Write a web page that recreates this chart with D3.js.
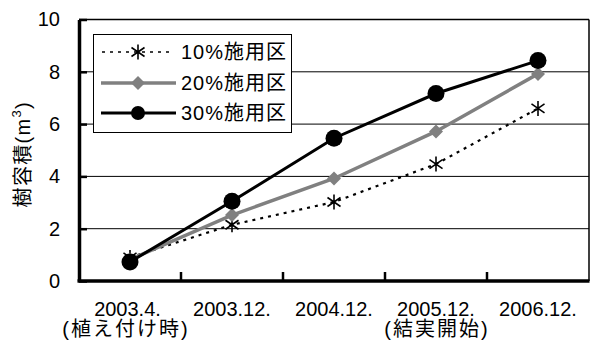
<!DOCTYPE html>
<html>
<head>
<meta charset="utf-8">
<script src="https://cdn.jsdelivr.net/npm/d3@7"></script>
<style>
  html, body { margin: 0; padding: 0; background: #fff; }
  svg { display: block; }
  text { font-family: "Liberation Sans", Arial, "Noto Sans CJK JP", sans-serif; fill: #000; }
</style>
</head>
<body>
<svg id="chart" width="592" height="341"></svg>
<script>
// Sampling dates (x categories) and their sub-captions
const periods = ["2003.4.", "2003.12.", "2004.12.", "2005.12.", "2006.12."];
const notes = ["(植え付け時)", "", "", "(結実開始)", ""];

// Tree volume (m³) for each fertilizer plot
const plot10 = [0.9, 2.15, 3.02, 4.47, 6.6];
const plot20 = [0.82, 2.52, 3.92, 5.72, 7.92];
const plot30 = [0.73, 3.05, 5.46, 7.17, 8.43];

const seriesNames = ["10%施用区", "20%施用区", "30%施用区"];
const yTicks = [0, 2, 4, 6, 8, 10];

const svg = d3.select("#chart");
const mLeft = 79, mRight = 589, mTop = 19.5, mBottom = 281;

const x = d3.scaleBand().domain(periods).range([mLeft, mRight]);
const y = d3.scaleLinear().domain([0, 10]).range([mBottom, mTop]);

// gridlines
svg.append("g").selectAll("line").data(yTicks.filter(d => d > 0 && d < 10)).join("line")
  .attr("x1", mLeft).attr("x2", mRight)
  .attr("y1", d => y(d)).attr("y2", d => y(d))
  .attr("stroke", "#000").attr("stroke-width", 1);

// plot frame: thin top and right
svg.append("line").attr("x1", mLeft).attr("x2", mRight).attr("y1", y(10)).attr("y2", y(10))
  .attr("stroke", "#000").attr("stroke-width", 1.5);
svg.append("line").attr("x1", mRight).attr("x2", mRight).attr("y1", y(10)).attr("y2", mBottom)
  .attr("stroke", "#000").attr("stroke-width", 1.5);

// y axis (ticks point inward)
const yAxis = d3.axisLeft(y).tickValues(yTicks).tickSizeInner(-8).tickSizeOuter(0).tickPadding(19);
const gy = svg.append("g").attr("transform", `translate(${mLeft},0)`).call(yAxis);
gy.select(".domain").attr("stroke", "#000").attr("stroke-width", 3.5);
gy.selectAll(".tick line").attr("stroke", "#000").attr("stroke-width", 2.5);
gy.selectAll(".tick text").attr("font-size", 20).attr("font-family", null);

// x axis (ticks at category boundaries, pointing inward)
const bounds = periods.slice(1).map(p => x(p));
svg.append("line").attr("x1", mLeft - 1.5).attr("x2", mRight + 0.5).attr("y1", mBottom).attr("y2", mBottom)
  .attr("stroke", "#000").attr("stroke-width", 3.5);
svg.append("g").selectAll("line").data(bounds).join("line")
  .attr("x1", d => d).attr("x2", d => d)
  .attr("y1", mBottom).attr("y2", mBottom - 9)
  .attr("stroke", "#000").attr("stroke-width", 2.5);

const cx = p => x(p) + x.bandwidth() / 2;
svg.append("g").selectAll("text").data(periods).join("text")
  .attr("x", (d, i) => cx(d) - (notes[i] && i === 0 ? 2.5 : 0)).attr("y", 316)
  .attr("text-anchor", "middle").attr("font-size", 20)
  .text(d => d);
svg.append("g").selectAll("text").data(periods.map((p, i) => ({p, i, t: notes[i]})).filter(d => d.t)).join("text")
  .attr("x", d => cx(d.p) - (d.i === 0 ? 5 : 0) + 1).attr("y", 336)
  .attr("text-anchor", "middle").attr("font-size", 20).attr("letter-spacing", 2)
  .text(d => d.t);

// y axis title
const yt = svg.append("text")
  .attr("transform", `translate(30,${(mBottom + mTop) / 2 + 4}) rotate(-90)`)
  .attr("text-anchor", "middle").attr("font-size", 20).attr("letter-spacing", 1.3);
yt.append("tspan").text("樹容積(m");
yt.append("tspan").attr("font-size", 13).attr("dy", -9).text("3");
yt.append("tspan").attr("dy", 9).text(")");

// series
const line = d3.line().x((d, i) => cx(periods[i])).y(d => y(d));

function star(g, px, py, s) {
  const r = s;
  g.append("path")
    .attr("d", `M${px},${py - r}L${px},${py + r}M${px - r * 0.87},${py - r * 0.6}L${px + r * 0.87},${py + r * 0.6}M${px - r * 0.87},${py + r * 0.6}L${px + r * 0.87},${py - r * 0.6}`)
    .attr("stroke", "#000").attr("stroke-width", 1.6).attr("fill", "none");
}
function diamond(g, px, py, s) {
  g.append("path").attr("d", `M${px},${py - s}L${px + s},${py}L${px},${py + s}L${px - s},${py}Z`)
    .attr("fill", "#808080");
}
function dot(g, px, py, r) {
  g.append("circle").attr("cx", px).attr("cy", py).attr("r", r).attr("fill", "#000");
}

const g10 = svg.append("g");
g10.append("path").attr("d", line(plot10)).attr("fill", "none")
  .attr("stroke", "#000").attr("stroke-width", 2.2).attr("stroke-dasharray", "3,5");
plot10.forEach((v, i) => star(g10, cx(periods[i]), y(v), 7.5));

const g20 = svg.append("g");
g20.append("path").attr("d", line(plot20)).attr("fill", "none")
  .attr("stroke", "#808080").attr("stroke-width", 3.5);
plot20.forEach((v, i) => diamond(g20, cx(periods[i]), y(v), 7));

const g30 = svg.append("g");
g30.append("path").attr("d", line(plot30)).attr("fill", "none")
  .attr("stroke", "#000").attr("stroke-width", 3);
plot30.forEach((v, i) => dot(g30, cx(periods[i]), y(v), 8.5));

// legend
const lg = svg.append("g");
lg.append("rect").attr("x", 93.5).attr("y", 34.5).attr("width", 198).attr("height", 98)
  .attr("fill", "#fff").attr("stroke", "#000").attr("stroke-width", 1);
const rows = [52, 83, 113];
lg.append("line").attr("x1", 102).attr("x2", 174).attr("y1", rows[0]).attr("y2", rows[0])
  .attr("stroke", "#000").attr("stroke-width", 1.6).attr("stroke-dasharray", "3,5");
star(lg, 138, rows[0], 7.5);
lg.append("line").attr("x1", 101).attr("x2", 176).attr("y1", rows[1]).attr("y2", rows[1])
  .attr("stroke", "#808080").attr("stroke-width", 3.5);
diamond(lg, 138, rows[1], 7);
lg.append("line").attr("x1", 101).attr("x2", 176).attr("y1", rows[2]).attr("y2", rows[2])
  .attr("stroke", "#000").attr("stroke-width", 3);
dot(lg, 138, rows[2], 7);
lg.selectAll("text.lab").data(seriesNames).join("text").attr("class", "lab")
  .attr("x", 181).attr("y", (d, i) => rows[i] + 7).attr("font-size", 20).attr("letter-spacing", 1)
  .text(d => d);
</script>
</body>
</html>
